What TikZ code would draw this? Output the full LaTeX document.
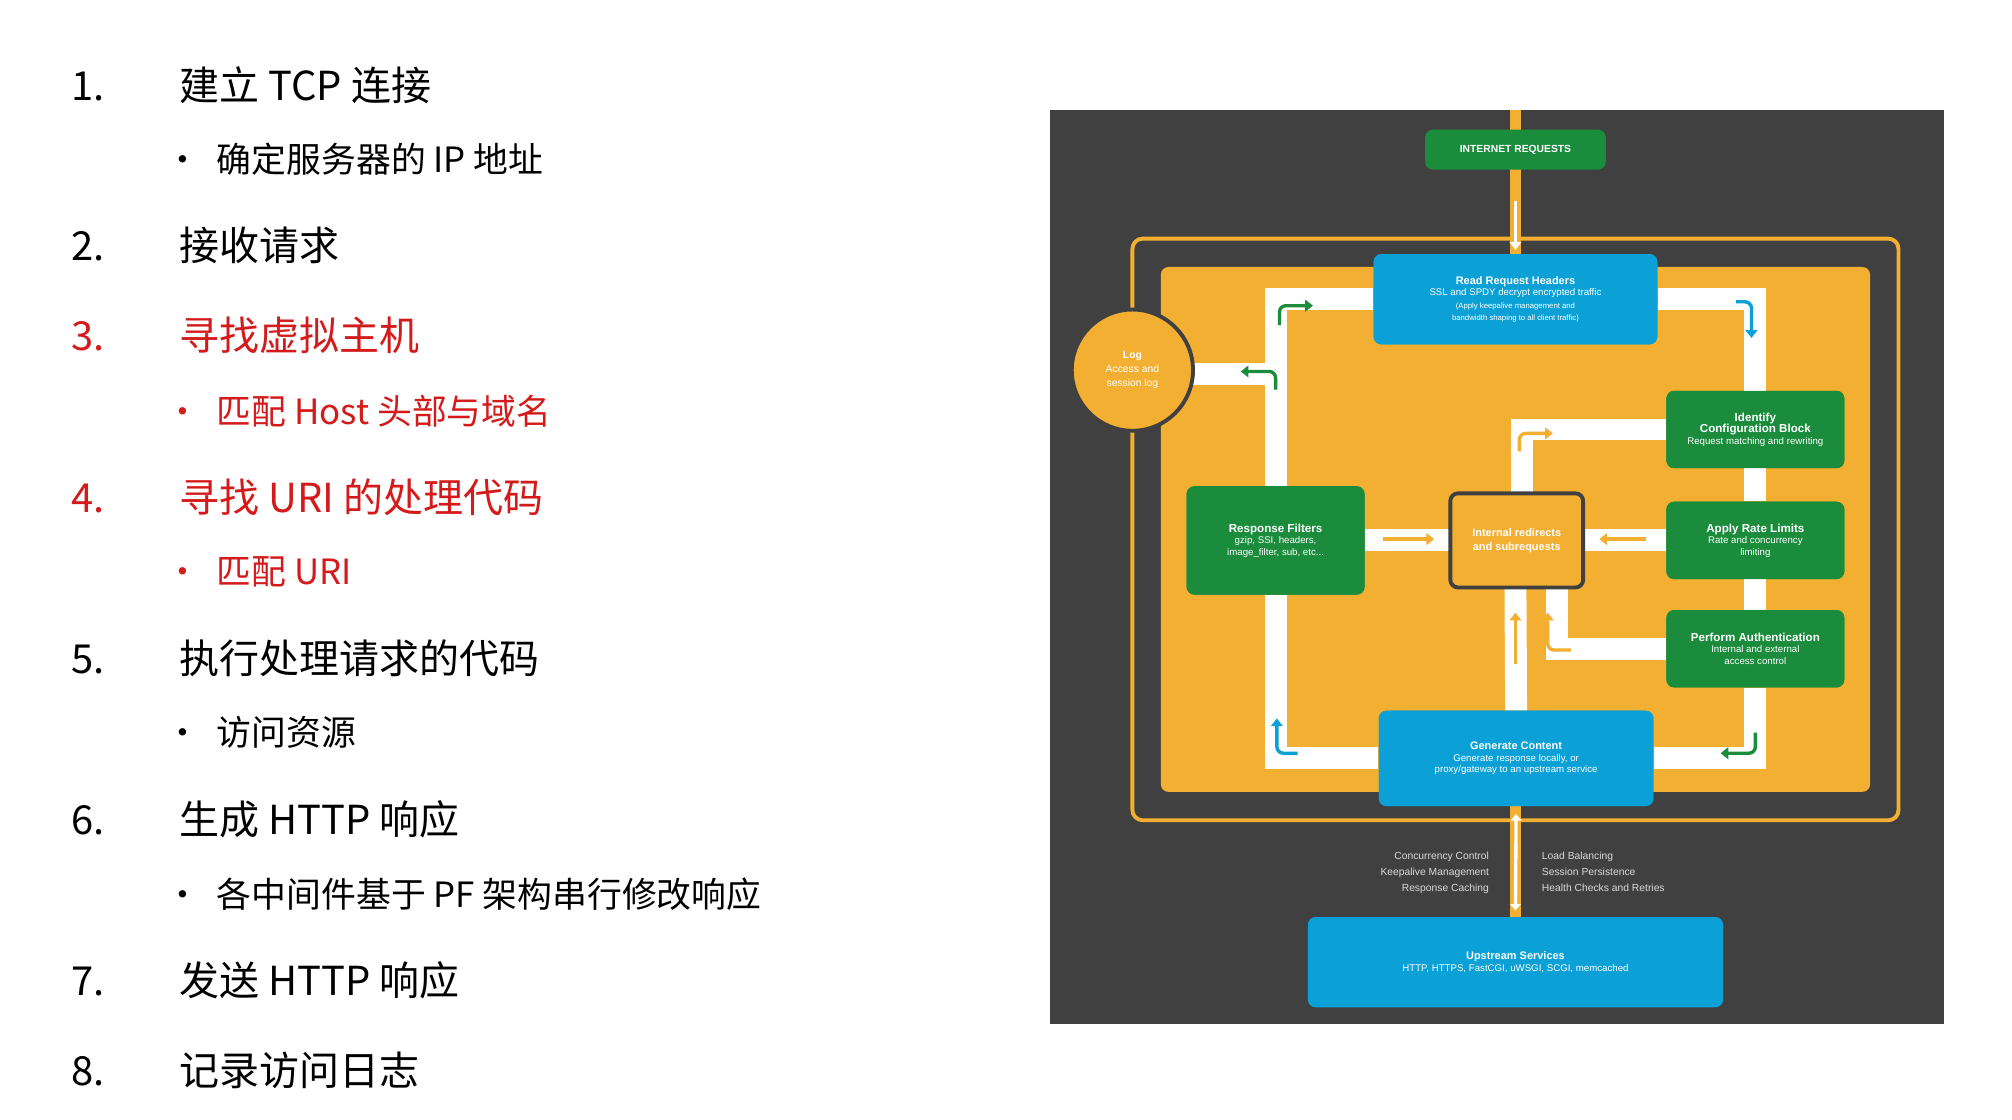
\documentclass[tikz,border=0pt]{standalone}
\usepackage{fontspec}
\setmainfont{Liberation Sans}
\newfontfamily\cjk{Noto Sans CJK SC}
\usetikzlibrary{positioning,arrows.meta}
\definecolor{ngreen}{HTML}{1A8C3C}
\definecolor{nblue}{HTML}{0BA0D6}
\definecolor{norange}{HTML}{F3AF32}
\definecolor{ndark}{HTML}{404040}
\definecolor{nred}{HTML}{D41A1A}
\begin{document}
\begin{tikzpicture}[x=1pt,y=-1pt,
    item/.style={anchor=base west,inner sep=0pt,font=\cjk\fontsize{31}{31}\selectfont},
    sub/.style={anchor=base west,inner sep=0pt,font=\cjk\fontsize{27}{27}\selectfont},
    box/.style={rounded corners=6pt,text=white,align=center,inner sep=2pt,font=\fontsize{7.5}{9}\selectfont},
    greenbox/.style={box,fill=ngreen},
    bluebox/.style={box,fill=nblue},
    lane/.style={white,line width=17pt},
    smallarr/.style={line width=2.6pt,-{Triangle[length=6pt,width=9pt]},rounded corners=5pt}]

    \useasboundingbox (0,0) rectangle (1560,868);

    %==================== Left: steps ====================
    \foreach \n/\y/\t/\c in {1/78/建立 TCP 连接/black,2/202/接收请求/black,
        3/272/寻找虚拟主机/nred,4/397/寻找 URI 的处理代码/nred,
        5/522/执行处理请求的代码/black,6/647/生成 HTTP 响应/black,
        7/772/发送 HTTP 响应/black,8/842/记录访问日志/black} {
      \node[item,text=\c] (num\n) at (55,\y) {\n.};
      \node[item,text=\c] (step\n) at (139,\y) {\t};
    }
    \foreach \n/\y/\t/\c in {1/134/确定服务器的 IP 地址/black,3/329/匹配 Host 头部与域名/nred,
        4/453/匹配 URI/nred,5/578/访问资源/black,6/704/各中间件基于 PF 架构串行修改响应/black} {
      \node[sub,text=\c] (dot\n) at (128,\y) {•};
      \node[sub,text=\c] (sub\n) at (168,\y) {\t};
    }

    %==================== Right: request flow ====================
    \fill[ndark] (814,85) rectangle (1507,794);
    \draw[norange,line width=3pt,rounded corners=8pt] (878,185) rectangle (1472,636);
    \fill[norange,rounded corners=6pt] (900,207) rectangle (1450,614);
    \draw[norange,line width=9pt] (1175,85) -- (1175,200);
    \draw[norange,line width=9pt] (1175,620) -- (1175,715);

    % Boxes
    \node[greenbox,minimum width=140pt,minimum height=31pt,font=\bfseries\fontsize{8}{9}\selectfont] (inet) at (1175,116) {INTERNET REQUESTS};
    \node[bluebox,minimum width=220pt,minimum height=70pt] (read) at (1175,232)
      {\textbf{\fontsize{8.5}{10}\selectfont Read Request Headers}\\SSL and SPDY decrypt encrypted traffic\\[1pt]
       {\fontsize{6}{7}\selectfont (Apply keepalive management and}\\{\fontsize{6}{7}\selectfont bandwidth shaping to all client traffic)}};
    \node[bluebox,minimum width=213pt,minimum height=74pt] (gen) at (1175.5,588)
      {\textbf{\fontsize{8.5}{10}\selectfont Generate Content}\\Generate response locally, or\\proxy/gateway to an upstream service};
    \node[bluebox,minimum width=322pt,minimum height=70pt] (up) at (1175,746)
      {\textbf{\fontsize{8.5}{10}\selectfont Upstream Services}\\HTTP, HTTPS, FastCGI, uWSGI, SCGI, memcached};
    \node[greenbox,minimum width=138pt,minimum height=60pt] (ident) at (1361,333)
      {\textbf{\fontsize{9}{11}\selectfont Identify}\\\textbf{\fontsize{9}{11}\selectfont Configuration Block}\\Request matching and rewriting};
    \node[greenbox,minimum width=138pt,minimum height=60pt] (rate) at (1361,419)
      {\textbf{\fontsize{9}{11}\selectfont Apply Rate Limits}\\Rate and concurrency\\limiting};
    \node[greenbox,minimum width=138pt,minimum height=60pt] (auth) at (1361,503)
      {\textbf{\fontsize{9}{11}\selectfont Perform Authentication}\\Internal and external\\access control};
    \node[greenbox,minimum width=138pt,minimum height=84pt] (resp) at (989,419)
      {\textbf{\fontsize{9}{11}\selectfont Response Filters}\\gzip, SSI, headers,\\image\_filter, sub, etc...};

    % White lanes
    \begin{scope}[on background layer/.style={}]
      \draw[lane] (read.east) -| (ident.north);
      \draw[lane] (ident.south) -- (rate.north);
      \draw[lane] (rate.south) -- (auth.north);
      \draw[lane] (auth.south) |- (gen.east);
      \draw[lane] (gen.west) -| (resp.south);
      \draw[lane] (resp.north) |- (read.west);
      \draw[lane] (ident.west) -| (1180,385);
      \draw[lane] (resp.east) -- (1126,419);
      \draw[lane] (rate.west) -- (1227,419);
      \draw[lane] (auth.west) -| (1207,455);
      \draw[lane] (gen.north) -- (1175,455);
      \draw[lane] (989,290) -- (900,290);
    \end{scope}
    \node[greenbox] at (ident) {\textbf{\fontsize{9}{11}\selectfont Identify}\\\textbf{\fontsize{9}{11}\selectfont Configuration Block}\\Request matching and rewriting};
    \node[bluebox,minimum width=220pt,minimum height=70pt] at (read)
      {\textbf{\fontsize{8.5}{10}\selectfont Read Request Headers}\\SSL and SPDY decrypt encrypted traffic\\[1pt]
       {\fontsize{6}{7}\selectfont (Apply keepalive management and}\\{\fontsize{6}{7}\selectfont bandwidth shaping to all client traffic)}};
    \node[bluebox,minimum width=213pt,minimum height=74pt] at (gen)
      {\textbf{\fontsize{8.5}{10}\selectfont Generate Content}\\Generate response locally, or\\proxy/gateway to an upstream service};
    \node[greenbox,minimum width=138pt,minimum height=60pt] at (ident)
      {\textbf{\fontsize{9}{11}\selectfont Identify}\\\textbf{\fontsize{9}{11}\selectfont Configuration Block}\\Request matching and rewriting};
    \node[greenbox,minimum width=138pt,minimum height=60pt] at (rate)
      {\textbf{\fontsize{9}{11}\selectfont Apply Rate Limits}\\Rate and concurrency\\limiting};
    \node[greenbox,minimum width=138pt,minimum height=60pt] at (auth)
      {\textbf{\fontsize{9}{11}\selectfont Perform Authentication}\\Internal and external\\access control};
    \node[greenbox,minimum width=138pt,minimum height=84pt] at (resp)
      {\textbf{\fontsize{9}{11}\selectfont Response Filters}\\gzip, SSI, headers,\\image\_filter, sub, etc...};

    \node[box,fill=norange,draw=ndark,line width=3pt,minimum width=103pt,minimum height=73pt,font=\bfseries\fontsize{8.5}{11}\selectfont] (redir) at (1176,419) {Internal redirects\\and subrequests};
    \node[circle,fill=norange,draw=ndark,line width=3pt,minimum size=94pt,text=white,align=center,font=\fontsize{8}{11}\selectfont] (log) at (878,287) {\textbf{Log}\\Access and\\session log};

    % Flow arrows
    \draw[smallarr,white] (inet.south) ++(0,24) -- ++(0,38);
    \draw[smallarr,white,{Triangle[length=5pt,width=8pt]}-{Triangle[length=5pt,width=8pt]}] (gen.south) ++(0,6) -- (1175,706);
    \draw[smallarr,ngreen] (992,252) -- (992,237) -- (1018,237);
    \draw[smallarr,nblue] (1346,234) -- (1358,234) -- (1358,262);
    \draw[smallarr,ngreen] (989,302) -- (989,288) -- (962,288);
    \draw[smallarr,norange] (1178,350) -- (1178,336) -- (1204,336);
    \draw[smallarr,norange] (1072,418) -- (1112,418);
    \draw[smallarr,norange] (1276,418) -- (1240,418);
    \draw[smallarr,norange,rounded corners=0pt] (1175,515) -- (1175,475);
    \draw[smallarr,norange] (1218,504) -- (1200,504) -- (1200,475);
    \draw[smallarr,nblue] (1006,584) -- (990,584) -- (990,557);
    \draw[smallarr,ngreen] (1361,568) -- (1361,584) -- (1334,584);

    % Upstream notes
    \node[anchor=north east,align=right,text=white!85!black,font=\fontsize{8}{12.5}\selectfont] (notesl) at (1158,657)
      {Concurrency Control\\Keepalive Management\\Response Caching};
    \node[anchor=north west,align=left,text=white!85!black,font=\fontsize{8}{12.5}\selectfont] (notesr) at (1192,657)
      {Load Balancing\\Session Persistence\\Health Checks and Retries};
  \end{tikzpicture}
\end{document}
